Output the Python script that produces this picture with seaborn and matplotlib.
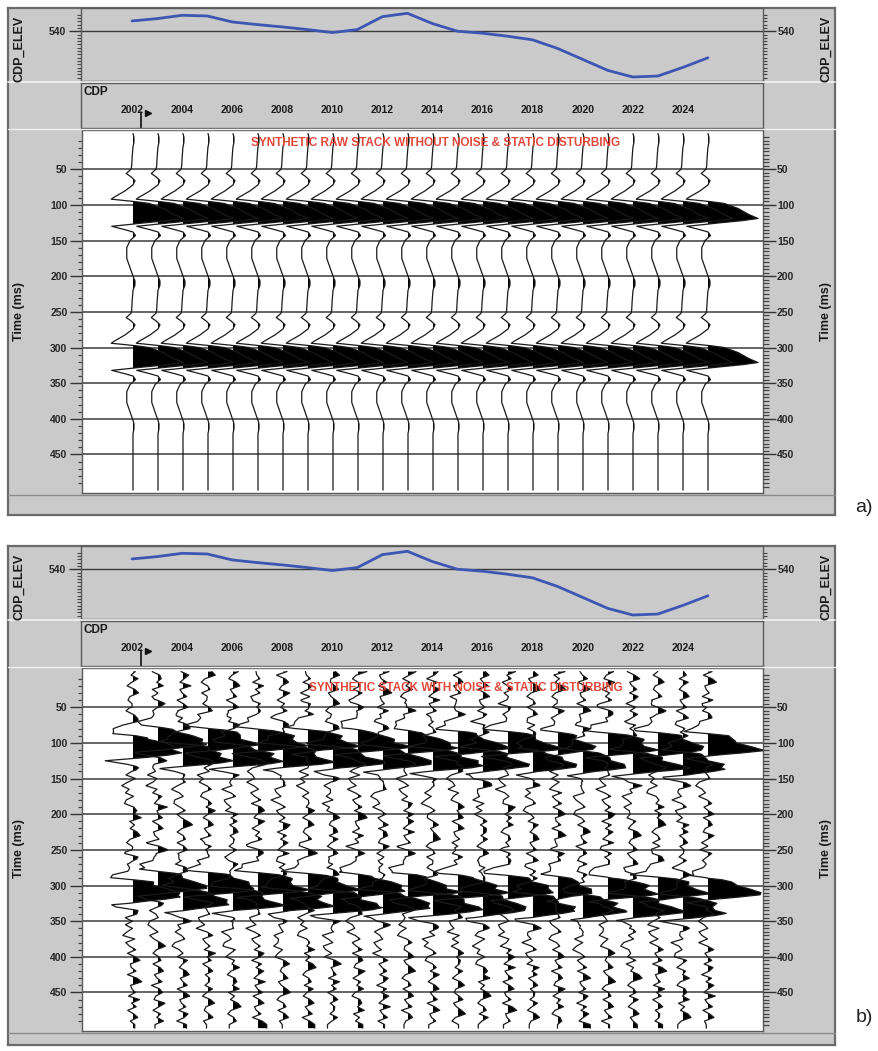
import numpy as np
import pandas as pd
import matplotlib
matplotlib.use("Agg")
import matplotlib.pyplot as plt
import seaborn as sns
from matplotlib.ticker import FixedLocator
from matplotlib.lines import Line2D
from matplotlib.font_manager import fontManager

sns.set_style("white")
_names = {f.name for f in fontManager.ttflist}
NARROW = "Liberation Sans Narrow" if "Liberation Sans Narrow" in _names else "Liberation Sans"
plt.rcParams["font.family"] = [NARROW, "DejaVu Sans"]

W, H = 879, 1051

# ---- data -------------------------------------------------------------
CDP = list(range(2002, 2026))
CDP_ELEV = [543.1, 543.8, 544.8, 544.6, 542.8, 542.0, 541.3, 540.5, 539.6, 540.5,
            544.4, 545.4, 542.3, 540.0, 539.4, 538.5, 537.4, 534.8, 531.5, 528.2,
            526.2, 526.5, 529.1, 532.0]
CDP_TICKS = list(range(2002, 2025, 2))
TIME_TICKS = list(range(50, 451, 50))

# reflector peak times (ms)
REFLECTOR_T = [119, 321]
# source wavelet: offset from peak (ms) and trace deflection (CDP units)
WAVELET_OFFSET = [-119, -114, -107, -101, -89, -74, -69, -63, -59, -53, -47,
                  -39, -33, -30, -27, -24, -21, -14, -6, 0, 3, 6, 8, 11, 15,
                  19, 24, 31, 41, 56, 71, 81, 86, 93, 99]
WAVELET_AMP = [0.0, 0.04, 0.04, 0.0, -0.03, -0.05, -0.08, -0.27, -0.10, 0.08, 0.0,
               -0.30, -0.60, -0.75, -0.87, 0.0, 0.65, 1.2, 1.6, 2.0, 1.4, 0.5,
               0.0, -0.85, -0.40, 0.0, 0.10, -0.12, -0.25, -0.25, -0.10, 0.0,
               0.04, 0.04, 0.0]

# disturbed stack: static shift (ms) and gain per trace
STATIC_MS = [-5, -17, 6, -16, 7, -15, 8, -14, 10, -13, 11, -12,
             13, -11, 14, -11, 15, -10, 16, -9, 17, -9, 18, -8]
TRACE_GAIN = [1.0, 1.0, 1.0, 1.0, 1.0, 1.0, 1.0, 1.0, 1.0, 1.0, 1.0, 1.0,
              1.0, 1.0, 0.9, 1.0, 0.88, 0.72, 0.88, 1.0, 1.0, 1.0, 0.88, 1.0]
# additive noise samples every 5 ms, and start sample used by each trace
NOISE = [0.05, -0.12, 0.18, -0.05, -0.22, 0.10, 0.26, -0.08, -0.15, 0.04,
         0.20, -0.18, -0.06, 0.14, 0.30, -0.10, -0.24, 0.02, 0.12, -0.20,
         0.08, 0.22, -0.14, -0.03, 0.16, -0.26, 0.06, 0.18, -0.09, -0.16,
         0.28, 0.04, -0.20, 0.10, -0.05, 0.22, -0.12, -0.24, 0.08, 0.15,
         -0.02, 0.25, -0.18, 0.06, -0.10, 0.19, 0.32, -0.07, -0.21, 0.03,
         0.13, -0.15, 0.21, -0.04, -0.19, 0.09, 0.24, -0.11, 0.00, 0.17,
         -0.23, 0.07, 0.27, -0.13, -0.06, 0.11, -0.17, 0.20, 0.05, -0.25,
         0.14, -0.08, 0.23, 0.01, -0.16, 0.29, -0.12, -0.02, 0.18, -0.20,
         0.06, 0.24, -0.14, -0.07, 0.12, -0.22, 0.16, 0.35, -0.10, -0.04,
         0.09, -0.18, 0.26, -0.06, 0.13, -0.21, 0.03, 0.19, -0.11, 0.07]
NOISE_START = [0, 37, 71, 13, 52, 88, 24, 63, 5, 46, 81, 30,
               67, 18, 55, 92, 9, 41, 76, 27, 60, 3, 49, 84]

TITLE_A = "SYNTHETIC RAW STACK WITHOUT NOISE & STATIC DISTURBING"
TITLE_B = "SYNTHETIC STACK WITH NOISE & STATIC DISTURBING"

# ---- styling ----------------------------------------------------------
GRAY = "#cacaca"
EDGE = "#5a5a5a"
BLUE = "#3d55b3"
RED = "#e2473a"
INK = "#1a1a1a"
XMIN, XMAX = 1999.96, 2027.2
TMIN, TMAX = -5.0, 504.0
t = np.arange(0.0, 500.5, 0.5)


def px_box(x0, y0, x1, y1):
    return [x0 / W, 1 - y1 / H, (x1 - x0) / W, (y1 - y0) / H]


def trace_amp(shift=0.0, gain=1.0):
    a = np.zeros_like(t)
    for tr in REFLECTOR_T:
        a += gain * np.interp(t - tr - shift, WAVELET_OFFSET, WAVELET_AMP, left=0, right=0)
    return a


def noise_amp(start):
    seq = np.roll(np.array(NOISE), -start)
    tn = np.arange(len(seq)) * 5.0
    return np.interp(t, tn, seq)


def style_spines(ax, color=EDGE, lw=1.0):
    for s in ax.spines.values():
        s.set_color(color)
        s.set_linewidth(lw)


fig = plt.figure(figsize=(W / 100, H / 100), dpi=100)
fig.patch.set_facecolor("white")
lbl_kw = dict(fontsize=7.5, fontweight="bold", color=INK)


def draw_panel(top, bottom, amps, title, title_xy, letter, letter_y):
    bg = fig.add_axes(px_box(8, top, 835, bottom))
    bg.set_facecolor(GRAY)
    bg.set_xticks([]); bg.set_yticks([])
    style_spines(bg, "#6a6a6a", 1.6)

    # elevation strip
    ax_e = fig.add_axes(px_box(81, top, 763, top + 73))
    ax_e.set_facecolor(GRAY)
    ax_e.axhline(540, color="#3a3a3a", lw=1.0, zorder=1)
    elev = pd.DataFrame({"cdp": CDP, "elev": CDP_ELEV})
    sns.lineplot(data=elev, x="cdp", y="elev", ax=ax_e, color=BLUE, lw=2.0, zorder=3)
    ax_e.set_xlim(XMIN, XMAX)
    ax_e.set_ylim(525, 547)
    ax_e.set_xticks([])
    ax_e.set_xlabel(""); ax_e.set_ylabel("")
    ax_e.yaxis.set_major_locator(FixedLocator([540]))
    ax_e.yaxis.set_minor_locator(FixedLocator(list(range(526, 546))))
    ax_e.tick_params(axis="y", which="major", left=True, right=True, labelleft=True,
                     labelright=True, direction="out", length=9, width=1.0,
                     color="#333333", pad=1.5, labelsize=7.5)
    ax_e.tick_params(axis="y", which="minor", left=True, right=True, direction="out",
                     length=3, width=0.8, color="#444444")
    for lab in ax_e.get_yticklabels():
        lab.set_fontweight("bold")
    style_spines(ax_e)
    fig.text(19 / W, 1 - (top + 41) / H, "CDP_ELEV", rotation=90, ha="center",
             va="center", fontsize=9, fontweight="bold", color=INK)
    fig.text(826 / W, 1 - (top + 41) / H, "CDP_ELEV", rotation=90, ha="center",
             va="center", fontsize=9, fontweight="bold", color=INK)
    fig.add_artist(Line2D([8 / W, 835 / W], [1 - (top + 74) / H] * 2,
                          color="#f2f2f2", lw=1.2))

    # CDP header
    ax_h = fig.add_axes(px_box(81, top + 75, 763, top + 120))
    ax_h.set_facecolor(GRAY)
    ax_h.set_xlim(XMIN, XMAX)
    ax_h.set_ylim(0, 1)
    ax_h.set_yticks([])
    ax_h.set_xticks(CDP_TICKS)
    ax_h.set_xticklabels([str(c) for c in CDP_TICKS], **lbl_kw)
    ax_h.tick_params(axis="x", direction="in", length=8, width=1.2, color="#222222",
                     pad=-16.5)
    ax_h.text(0.004, 0.93, "CDP", transform=ax_h.transAxes, ha="left", va="top",
              fontsize=8.5, fontweight="bold", color=INK)
    # current-CDP flag
    ax_h.plot([2002.36, 2002.36], [0.0, 0.36], color="#111111", lw=1.2)
    ax_h.plot([2002.62], [0.33], marker=">", color="#111111", ms=5)
    style_spines(ax_h)
    fig.add_artist(Line2D([8 / W, 835 / W], [1 - (top + 121) / H] * 2,
                          color="#f2f2f2", lw=1.0))

    # seismic section
    ax_m = fig.add_axes(px_box(82, top + 122, 763, top + 485))
    ax_m.set_facecolor("white")
    ax_m.set_xlim(XMIN, XMAX)
    ax_m.set_ylim(TMAX, TMIN)
    ax_m.set_xticks([])
    ax_m.yaxis.set_major_locator(FixedLocator(TIME_TICKS))
    ax_m.yaxis.set_minor_locator(FixedLocator(list(range(10, 500, 10))))
    ax_m.yaxis.grid(True, which="major", color="#3c3c3c", lw=1.1)
    ax_m.set_axisbelow(True)
    ax_m.tick_params(axis="y", which="major", left=True, direction="out", length=9,
                     width=1.0, color="#333333", pad=1.5, labelsize=7.5)
    ax_m.tick_params(axis="y", which="minor", left=True, direction="out", length=3,
                     width=0.9, color="#444444")
    for lab in ax_m.get_yticklabels():
        lab.set_fontweight("bold")
    for c, a in zip(CDP, amps):
        ax_m.fill_betweenx(t, c, c + a, where=a > 0, interpolate=True,
                           color="black", lw=0, zorder=2)
        ax_m.plot(c + a, t, color=INK, lw=0.9, zorder=3)
    ax_m.text(title_xy[0], title_xy[1], title, color=RED, ha="center", va="center",
              fontsize=8.5, fontweight="bold", zorder=4)
    style_spines(ax_m)

    ax_r = ax_m.twinx()
    ax_r.set_ylim(TMAX, TMIN)
    ax_r.yaxis.set_major_locator(FixedLocator(TIME_TICKS))
    ax_r.yaxis.set_minor_locator(FixedLocator(list(range(5, 500, 5))))
    ax_r.tick_params(axis="y", which="major", right=True, direction="out", length=9,
                     width=1.0, color="#333333", pad=1.0, labelsize=7.5)
    ax_r.tick_params(axis="y", which="minor", right=True, direction="out", length=4,
                     width=0.9, color="#444444")
    for lab in ax_r.get_yticklabels():
        lab.set_fontweight("bold")
    ax_r.grid(False)
    for s in ax_r.spines.values():
        s.set_visible(False)

    mid = top + 122 + 181
    fig.text(19 / W, 1 - mid / H, "Time (ms)", rotation=90, ha="center", va="center",
             fontsize=9, fontweight="bold", color=INK)
    fig.text(826 / W, 1 - mid / H, "Time (ms)", rotation=90, ha="center", va="center",
             fontsize=9, fontweight="bold", color=INK)
    fig.add_artist(Line2D([8 / W, 835 / W], [1 - (top + 487) / H] * 2,
                          color="#8a8a8a", lw=1.0))

    fig.text(864 / W, 1 - letter_y / H, letter, ha="center", va="center",
             fontsize=14, color="#222222", family=["Liberation Sans", "DejaVu Sans"])


amps_a = [trace_amp() for _ in CDP]
amps_b = [trace_amp(s, g) + noise_amp(n)
          for s, g, n in zip(STATIC_MS, TRACE_GAIN, NOISE_START)]

draw_panel(8, 515, amps_a, TITLE_A, (2014.1, 13), "a)", 507)
draw_panel(546, 1045, amps_b, TITLE_B, (2015.3, 23), "b)", 1018)

fig.savefig("out.png", dpi=100, facecolor="white")
